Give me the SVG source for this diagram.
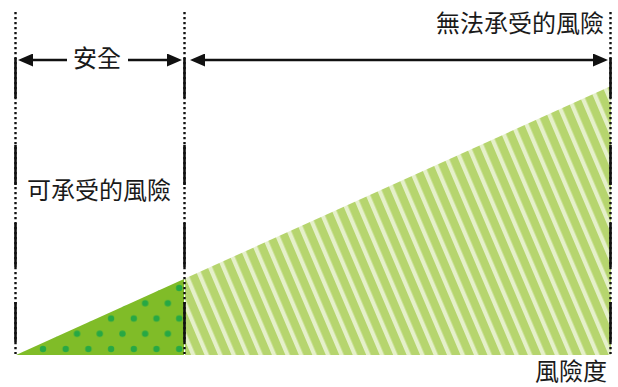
<svg xmlns="http://www.w3.org/2000/svg" width="618" height="387" viewBox="0 0 618 387">
  <style>
    .lbl { font-family: "Noto Sans CJK TC", "Noto Sans CJK SC", sans-serif; font-size: 24px; fill: #1a1a1a; }
    .dots { stroke: #111; stroke-width: 2.4; stroke-dasharray: 2.2 2.8; fill: none; }
    .solid { stroke: #111; stroke-width: 2.6; fill: none; }
    .arr { stroke: #111; stroke-width: 2.6; fill: none; }
  </style>
  <defs>
    <marker id="ah" markerUnits="userSpaceOnUse" markerWidth="15" markerHeight="13" refX="5" refY="6.5" orient="auto-start-reverse">
      <path d="M0,0 L15,6.5 L0,13 z" fill="#111"/>
    </marker>
    <pattern id="spots" patternUnits="userSpaceOnUse" x="43" y="349" width="22.7" height="30.5">
      <circle cx="0" cy="0" r="3.2" fill="#27a844"/>
      <circle cx="22.7" cy="0" r="3.2" fill="#27a844"/>
      <circle cx="0" cy="30.5" r="3.2" fill="#27a844"/>
      <circle cx="22.7" cy="30.5" r="3.2" fill="#27a844"/>
      <circle cx="11.35" cy="15.25" r="3.2" fill="#27a844"/>
    </pattern>
    <pattern id="stripes" patternUnits="userSpaceOnUse" width="12.4" height="20" patternTransform="rotate(-23)">
      <rect width="12.4" height="20" fill="#b6d56e"/>
      <rect x="0" width="4.2" height="20" fill="#e5f0ca"/>
    </pattern>
  </defs>

  <g id="acceptable-area">
    <polygon points="16,355 184,279 184,355" fill="#80bc28"/>
    <polygon points="16,355 184,279 184,355" fill="url(#spots)"/>
  </g>
  <g id="unacceptable-area">
    <polygon points="185,278.5 611,86 611,355 185,355" fill="url(#stripes)"/>
  </g>

  <g id="boundaries">
    <path class="dots" d="M15.5,12 V354 M184.5,12 V354 M610.5,12 V354"/>
    <path class="solid" d="M15.5,58 V98 M15.5,145 V185 M15.5,223 V267 M15.5,302 V342
                           M184.5,58 V98 M184.5,145 V185 M184.5,223 V267 M184.5,302 V342
                           M610.5,58 V98 M610.5,145 V185 M610.5,223 V267 M610.5,302 V342"/>
  </g>

  <g id="connectors">
    <line class="arr" x1="28" y1="60" x2="67" y2="60" marker-start="url(#ah)"/>
    <line class="arr" x1="128" y1="60" x2="172" y2="60" marker-end="url(#ah)"/>
    <line class="arr" x1="200" y1="60" x2="598" y2="60" marker-start="url(#ah)" marker-end="url(#ah)"/>
  </g>

  <g id="label-safe"><text class="lbl" x="97" y="67" text-anchor="middle">安全</text></g>
  <g id="label-unacceptable"><text class="lbl" x="604" y="32" text-anchor="end">無法承受的風險</text></g>
  <g id="label-acceptable"><text class="lbl" x="99" y="199" text-anchor="middle">可承受的風險</text></g>
  <g id="label-axis"><text class="lbl" x="607" y="380" text-anchor="end">風險度</text></g>
</svg>
